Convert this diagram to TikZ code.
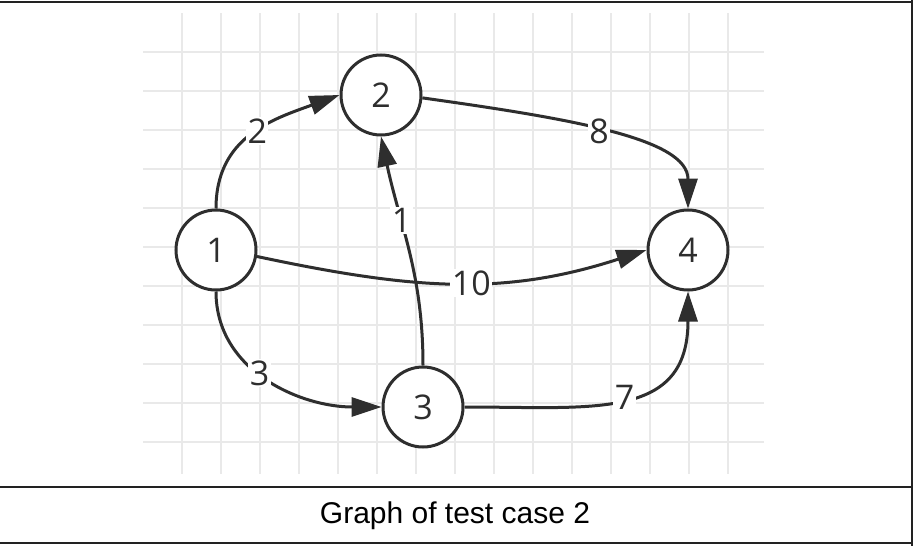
\documentclass[tikz,border=0pt]{standalone}
\usepackage{fontspec}
\setmainfont{Liberation Sans}
\newfontfamily\labfont{Open Sans}
\usetikzlibrary{arrows.meta}
\definecolor{ink}{HTML}{2E2E2E}
\definecolor{gridc}{HTML}{E9E9E9}
\definecolor{framec}{HTML}{222222}
\tikzset{
  vert/.style={circle, draw=ink, line width=3pt, fill=white, minimum size=80pt, inner sep=0pt,
    font=\labfont\fontsize{34}{34}\selectfont, text=ink},
  edge/.style={draw=ink, line width=3pt, -{Triangle[length=30pt,width=19pt]}},
  lbl/.style={fill=white, inner sep=1.5pt, font=\labfont\fontsize{34}{34}\selectfont, text=ink},
  framel/.style={draw=framec, line width=2pt},
}
\begin{document}
\begin{tikzpicture}[x=1pt,y=-1pt]
\useasboundingbox (0,0) rectangle (914,546);
% grid background
\fill[white] (0,0) rectangle (914,546);
\foreach \gx in {182,221,260,299,338,377,416,455,494,533,572,611,650,689,728}
  \draw[gridc, line width=2pt] (\gx,13) -- (\gx,474);
\foreach \gy in {52,91,130,169,208,247,286,325,364,403,442}
  \draw[gridc, line width=2pt] (143,\gy) -- (764,\gy);
% frame
\draw[framel] (0,1.5) -- (912,1.5);
\draw[framel] (0,486.5) -- (912,486.5);
\draw[framel] (0,542.5) -- (912,542.5);
\draw[framel] (911.5,0) -- (911.5,546);
% nodes
\node[vert] (n1) at (216,250) {1};
\node[vert] (n2) at (381,95) {2};
\node[vert] (n3) at (423,407) {3};
\node[vert] (n4) at (688,250) {4};
% edges
\draw[edge] (n3.north) .. controls +(90:92pt) and +(-78:90pt) .. (n2.south) node[lbl, pos=0.64] {1};
\draw[edge] (n1.-9) .. controls +(-12:160pt) and +(198:150pt) .. (n4.west) node[lbl, pos=0.54] {10};
\draw[edge] (n1.north) .. controls +(90:72pt) and +(200:70pt) .. (n2.west) node[lbl, pos=0.53] {2};
\draw[edge] (n2.-4) .. controls +(-8:150pt) and +(90:70pt) .. (n4.north) node[lbl, pos=0.46] {8};
\draw[edge] (n1.south) .. controls +(-90:80pt) and +(180:80pt) .. (n3.west) node[lbl, pos=0.45] {3};
\draw[edge] (n3.east) .. controls +(0:129pt) and +(-90:129pt) .. (n4.south) node[lbl, pos=0.5] {7};
% caption
\node[font=\fontsize{30}{30}\selectfont, text=black] (cap) at (455,516) {Graph of test case 2};
\end{tikzpicture}
\end{document}
